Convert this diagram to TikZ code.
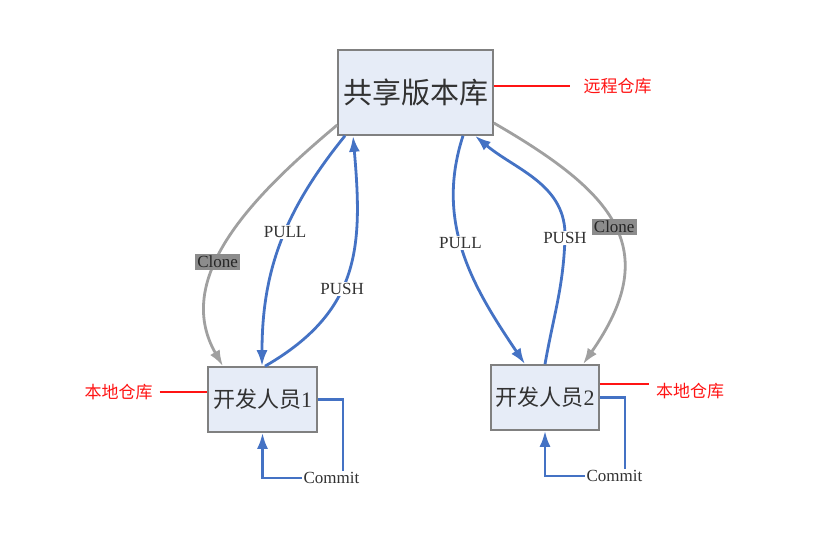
\documentclass[tikz,border=0pt]{standalone}
\usepackage{fontspec}
\setmainfont{Liberation Serif}
\newfontfamily\cjk{Noto Sans CJK SC}
\usepackage{xcolor}
\usetikzlibrary{arrows.meta,calc}

\definecolor{boxfill}{RGB}{230,236,247}
\definecolor{boxline}{RGB}{128,128,128}
\definecolor{flowblue}{RGB}{68,114,196}
\definecolor{clonegray}{RGB}{160,160,160}
\definecolor{clonetag}{RGB}{140,140,140}
\definecolor{notered}{RGB}{255,20,20}
\definecolor{textgray}{RGB}{50,50,50}

\begin{document}
\begin{tikzpicture}[x=1pt,y=1pt,>={Latex[length=16pt,width=11pt]},
  repobox/.style={draw=boxline,line width=1.6pt,fill=boxfill,text=textgray,inner sep=0pt},
  flow/.style={draw=flowblue,line width=2.8pt},
  clone/.style={draw=clonegray,line width=2.8pt},
  flowlbl/.style={fill=white,text=textgray,inner sep=1.5pt,font=\fontsize{17}{20}\selectfont},
  clonelbl/.style={fill=clonetag,text=black!85,inner sep=2pt,font=\fontsize{17}{20}\selectfont},
  note/.style={text=notered,inner xsep=7pt,font=\cjk\fontsize{17}{20}\selectfont},
  noteline/.style={draw=notered,line width=1.4pt}]
  % canvas in pixel units of the 838x534 sheet, y pointing up
  \useasboundingbox (0,0) rectangle (838,534);

  % shared repository and the two developers
  \node[repobox,minimum width=155pt,minimum height=85pt,
        font=\cjk\fontsize{29}{32}\selectfont] (repo) at (415.5,441.5) {共享版本库};
  \node[repobox,minimum width=109pt,minimum height=65pt,
        font=\fontsize{22}{26}\selectfont] (dev1) at (262.5,134.5) {{\cjk 开发人员}1};
  \node[repobox,minimum width=108pt,minimum height=65pt,
        font=\fontsize{22}{26}\selectfont] (dev2) at (545,136.5) {{\cjk 开发人员}2};

  % red side notes
  \node[note] (remote) at (617.5,448) {远程仓库};
  \node[note] (local1) at (118.5,142) {本地仓库};
  \node[note] (local2) at (690,143) {本地仓库};
  \draw[noteline] ([yshift=6.5pt]repo.east) -- ([xshift=-6pt]remote.west);
  \draw[noteline] (local1.east) -- ([yshift=7.5pt]dev1.west);
  \draw[noteline] ([yshift=13.5pt]dev2.east) -- ([yshift=7pt]local2.west);

  % clone (grey), outer curves
  \draw[clone,->] ([yshift=-32.5pt]repo.west) to[out=220,in=120]
    node[clonelbl,pos=0.6] {Clone} ([xshift=-39.5pt]dev1.north);
  \draw[clone,->] ([yshift=-30.5pt]repo.east) to[out=330,in=55,looseness=1.4]
    node[clonelbl,pos=0.5] {Clone} ([xshift=38pt]dev2.north);

  % pull / push, developer 1
  \draw[flow,->] ([xshift=-70.5pt]repo.south) to[out=231,in=90]
    node[flowlbl,pos=0.45] {PULL} ([xshift=-0.5pt]dev1.north);
  \draw[flow,->] ([xshift=2.5pt]dev1.north) to[out=30,in=275,looseness=1.15]
    node[flowlbl,pos=0.42] {PUSH} ([xshift=-62.5pt]repo.south);

  % pull / push, developer 2
  \draw[flow,->] ([xshift=47.5pt]repo.south) to[out=252,in=124]
    node[flowlbl,pos=0.45] {PULL} ([xshift=-20pt]dev2.north);
  \draw[flow,->] (dev2.north) to[out=80,in=268] (565,296) node[flowlbl] {PUSH}
    to[out=88,in=320] ([xshift=59.5pt]repo.south);

  % local commit loops
  \node[flowlbl] (commit1) at (331.5,56) {Commit};
  \node[flowlbl] (commit2) at (614.5,58) {Commit};
  \draw[flow] (dev1.east) -| ([xshift=11.5pt]commit1.north);
  \draw[flow,->] (commit1.west) -| (dev1.south);
  \draw[flow] (dev2.east) -| ([xshift=10.5pt]commit2.north);
  \draw[flow,->] (commit2.west) -| (dev2.south);
\end{tikzpicture}
\end{document}
